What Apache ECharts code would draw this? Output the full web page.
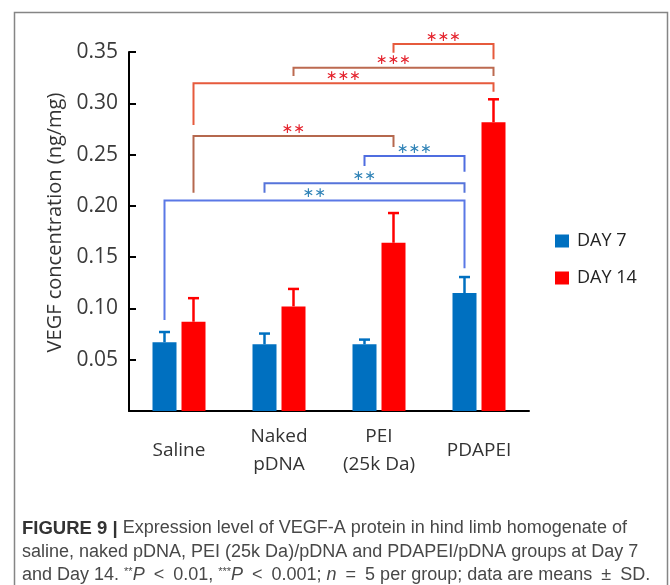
<!DOCTYPE html>
<html>
<head>
<meta charset="utf-8">
<script src="https://cdn.jsdelivr.net/npm/echarts@6/dist/echarts.min.js"></script>
<style>
html,body{margin:0;padding:0;background:#fff;}
#chart{width:670px;height:585px;}
</style>
</head>
<body>
<div id="chart"></div>
<script>
// ---- data ----
const categories = ['Saline', 'Naked\npDNA', 'PEI\n(25k Da)', 'PDAPEI'];
const seriesNames = ['DAY 7', 'DAY 14'];
const day7 = [0.067, 0.065, 0.065, 0.115];
const day7Sd = [0.010, 0.0105, 0.0046, 0.0156];
const day14 = [0.087, 0.102, 0.164, 0.2815];
const day14Sd = [0.023, 0.017, 0.029, 0.0224];
const yTicks = [0.05, 0.10, 0.15, 0.20, 0.25, 0.30, 0.35];
// brackets: [cat1, series1, cat2, series2, level, leg1End, leg2End, label]
const brackets = [
  [2, 1, 3, 1, 0.3578, 0.3493, 0.3429, '∗∗∗'],
  [1, 1, 3, 1, 0.3347, 0.3266, 0.3266, '∗∗∗'],
  [0, 1, 3, 1, 0.3195, 0.2788, 0.3113, '∗∗∗'],
  [0, 1, 2, 1, 0.2681, 0.2128, 0.2574, '∗∗'],
  [2, 0, 3, 0, 0.2486, 0.2389, 0.2333, '∗∗∗'],
  [1, 0, 3, 0, 0.2220, 0.2128, 0.2128, '∗∗'],
  [0, 0, 3, 0, 0.2052, 0.0887, 0.1391, '∗∗']
];
const captionLines = [
  '{b|FIGURE 9 |} Expression level of VEGF-A protein in hind limb homogenate of',
  'saline, naked pDNA, PEI (25k Da)/pDNA and PDAPEI/pDNA groups at Day 7',
  'and Day 14. {s|**}{i|P}\u2002<\u20020.01, {s|***}{i|P}\u2002<\u20020.001; {i|n}\u2002=\u20025 per group; data are means\u2002±\u2002SD.'
];

// ---- styles ----
const barColors = ['#0070C0', '#FF0000'];
const bracketLineColors = ['#E65A3C', '#BC6A50', '#E65A3C', '#B5684E', '#4F6DE0', '#5674DA', '#5A78E6'];
const bracketTextColors = ['#E4222C', '#E4222C', '#E4222C', '#E4222C', '#2E82B6', '#2E82B6', '#2E82B6'];
const BAR_W = 24, BAR_GAP = 5;
const seriesOffset = [-(BAR_W + BAR_GAP) / 2, (BAR_W + BAR_GAP) / 2];

const chart = echarts.init(document.getElementById('chart'));

function errRender(sd, sIdx) {
  return function (params, api) {
    const i = api.value(0);
    const v = api.value(1);
    const e = sd[i];
    const off = seriesOffset[sIdx];
    const p0 = api.coord([i, v]);
    const p1 = api.coord([i, v + e]);
    const x = p0[0] + off;
    const style = { stroke: barColors[sIdx], lineWidth: 2.5 };
    return {
      type: 'group',
      children: [
        { type: 'line', shape: { x1: x, y1: p0[1], x2: x, y2: p1[1] }, style },
        { type: 'line', shape: { x1: x - 5.5, y1: p1[1], x2: x + 5.5, y2: p1[1] }, style }
      ]
    };
  };
}

function bracketRender(params, api) {
  const idx = params.dataIndex;
  const b = brackets[idx];
  const xa = api.coord([b[0], 0])[0] + seriesOffset[b[1]];
  const xb = api.coord([b[2], 0])[0] + seriesOffset[b[3]];
  const yL = api.coord([0, b[4]])[1];
  const y1 = api.coord([0, b[5]])[1];
  const y2 = api.coord([0, b[6]])[1];
  return {
    type: 'group',
    children: [
      { type: 'polyline', shape: { points: [[xa, y1], [xa, yL], [xb, yL], [xb, y2]] },
        style: { stroke: bracketLineColors[idx], lineWidth: 2, fill: null } },
      { type: 'text', x: (xa + xb) / 2, y: yL - 7,
        style: { text: b[7], fill: bracketTextColors[idx], font: '14px "DejaVu Sans"',
                 align: 'center', verticalAlign: 'middle' } }
    ]
  };
}

const graphics = [
  { type: 'rect', shape: { x: 14.5, y: 12.5, width: 653, height: 620 },
    style: { fill: null, stroke: '#858585', lineWidth: 1.5 }, silent: true }
];
const capY = [530, 554, 577];
captionLines.forEach((t, k) => {
  graphics.push({
    type: 'text', left: 22, top: capY[k] - 11,
    style: {
      text: t, fill: '#484848', font: '18px "Liberation Sans"',
      rich: {
        b: { fontWeight: 'bold', fill: '#333', fontSize: 18.5, fontFamily: 'Liberation Sans' },
        i: { fontStyle: 'italic', fill: '#484848', fontSize: 18, fontFamily: 'Liberation Sans' },
        s: { fill: '#484848', fontSize: 11, fontFamily: 'Liberation Sans', verticalAlign: 'top', padding: [0, 0, 7, 0] }
      }
    }
  });
});

chart.setOption({
  animation: false,
  textStyle: { fontFamily: 'Open Sans' },
  grid: { left: 129, top: 52, width: 400, height: 359, containLabel: false },
  legend: {
    data: seriesNames, orient: 'vertical', left: 550, top: 227,
    itemWidth: 14, itemHeight: 13, itemGap: 19, icon: 'rect',
    textStyle: { fontSize: 18, color: '#222', fontFamily: 'Open Sans', padding: [0, 0, 0, 3] }
  },
  xAxis: {
    type: 'category', data: categories,
    axisLine: { lineStyle: { color: '#000', width: 2 } },
    axisTick: { show: false },
    axisLabel: { fontSize: 19, color: '#333', lineHeight: 28, margin: 40, verticalAlign: 'middle', interval: 0 }
  },
  yAxis: {
    type: 'value', min: 0, max: 0.35, interval: 0.05,
    name: 'VEGF concentration (ng/mg)', nameLocation: 'middle', nameGap: 64, nameRotate: 90,
    nameTextStyle: { fontSize: 20, color: '#333', padding: [0, 0, 0, 18] },
    axisLine: { show: true, lineStyle: { color: '#000', width: 2 } },
    axisTick: { show: true, inside: true, length: 7, lineStyle: { color: '#000', width: 2 } },
    splitLine: { show: false },
    axisLabel: { fontSize: 21, color: '#3a3a3a', margin: 11,
      formatter: v => (yTicks.some(t => Math.abs(t - v) < 1e-9) ? v.toFixed(2) : '') }
  },
  series: [
    { name: seriesNames[0], type: 'bar', data: day7, barWidth: BAR_W, barGap: (BAR_GAP / BAR_W * 100) + '%',
      itemStyle: { color: barColors[0] }, z: 2 },
    { name: seriesNames[1], type: 'bar', data: day14, barWidth: BAR_W,
      itemStyle: { color: barColors[1] }, z: 2 },
    { type: 'custom', renderItem: errRender(day7Sd, 0), data: day7.map((v, i) => [i, v]), z: 3, silent: true },
    { type: 'custom', renderItem: errRender(day14Sd, 1), data: day14.map((v, i) => [i, v]), z: 3, silent: true },
    { type: 'custom', renderItem: bracketRender, data: brackets.map((b, i) => [i, b[4]]), clip: false, z: 4, silent: true }
  ],
  graphic: graphics
});
</script>
</body>
</html>
